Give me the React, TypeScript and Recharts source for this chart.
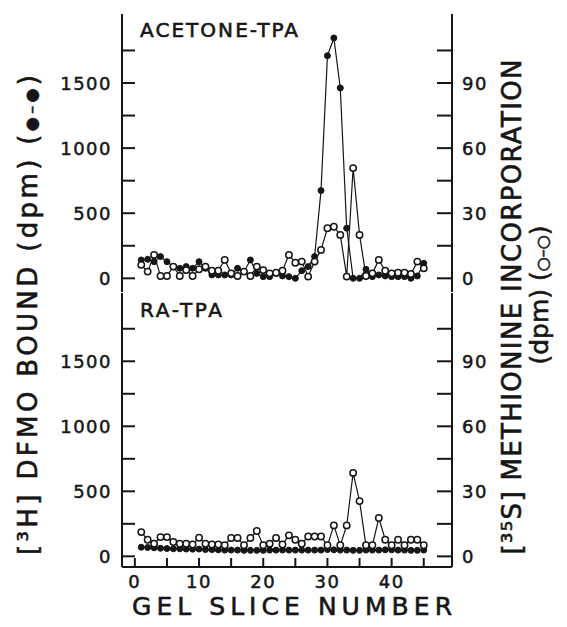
import React from 'react';
import { LineChart, Line, XAxis, YAxis } from 'recharts';

// ---------- data ----------
const slices = [1, 2, 3, 4, 5, 6, 7, 8, 9, 10, 11, 12, 13, 14, 15, 16, 17, 18, 19, 20, 21, 22, 23, 24, 25, 26, 27, 28, 29, 30, 31, 32, 33, 34, 35, 36, 37, 38, 39, 40, 41, 42, 43, 44, 45];

// [3H] DFMO bound (dpm), left axis
const acetoneDFMO = [141, 146, 128, 167, 128, 90, 77, 90, 77, 128, 77, 26, 26, 26, 26, 77, 51, 141, 38, 13, 13, 38, 18, 13, 0, 59, 90, 167, 674, 1710, 1846, 1462, 385, 0, 0, 69, 13, 26, 18, 13, 13, 13, 0, 18, 115];
const raDFMO = [70, 68, 66, 62, 60, 58, 58, 56, 55, 56, 52, 52, 50, 48, 48, 48, 46, 46, 46, 46, 48, 48, 48, 48, 48, 48, 48, 48, 48, 52, 50, 48, 48, 46, 46, 48, 48, 48, 50, 50, 48, 48, 46, 46, 48];

// [35S] methionine incorporation, right axis
const acetoneMet = [6.2, 3.1, 10.8, 1.1, 1.1, 5.4, 1.1, 3.8, 1.1, 4.2, 5.4, 3.5, 3.5, 8.5, 2.3, 1.1, 3.1, 1.1, 5.4, 3.8, 2.3, 2.6, 3.5, 10.8, 7.2, 7.7, 0.8, 7.7, 13.1, 23.1, 23.8, 20, 0.8, 50.8, 20, 1.1, 2.3, 8.5, 3.5, 2.3, 2.6, 2.6, 2.0, 7.7, 4.6];
const raMet = [11.2, 7.7, 5.8, 8.9, 8.9, 6.6, 5.8, 5.8, 5.5, 8.6, 5.8, 5.5, 5.5, 5.1, 8.5, 8.5, 5.1, 8.5, 11.7, 5.1, 5.8, 8.5, 5.5, 9.7, 7.7, 5.8, 9.2, 9.2, 9.2, 5.1, 14.3, 5.1, 14.3, 38.5, 25.5, 5.1, 5.1, 17.7, 7.7, 5.1, 7.7, 5.1, 7.7, 7.7, 5.1];

const leftTicks = [0, 250, 500, 750, 1000, 1250, 1500, 1750];
const leftLabels = [0, 500, 1000, 1500];
const rightTicks = [0, 15, 30, 45, 60, 75, 90, 105];
const rightLabels = [0, 30, 60, 90];
const xTicks = [0, 5, 10, 15, 20, 25, 30, 35, 40, 45];
const xLabels = [0, 10, 20, 30, 40];

const topRows = slices.map((s, i) => ({ slice: s, dfmo: acetoneDFMO[i], met: acetoneMet[i] }));
const bottomRows = slices.map((s, i) => ({ slice: s, dfmo: raDFMO[i], met: raMet[i] }));

// ---------- style ----------
const INK = '#161616';
const FONT = 'DejaVu Sans';
const W = 567;
const LEFT_W = 122;
const RIGHT_W = 115;
const PLOT_L = LEFT_W;
const PLOT_R = W - RIGHT_W;
const X_DOMAIN: [number, number] = [-2, 49.4];

const tickText = { fontSize: 18, fontFamily: FONT, fill: INK, stroke: INK, strokeWidth: 0.5, letterSpacing: 1.5 } as const;

function LeftTick(props: any) {
  const { y, payload } = props;
  const v = payload.value;
  return (
    <g>
      <line x1={PLOT_L} x2={PLOT_L + 13} y1={y} y2={y} stroke={INK} strokeWidth={2} />
      {leftLabels.includes(v) && (
        <text x={112} y={y + 6.5} textAnchor="end" {...tickText}>
          {v}
        </text>
      )}
    </g>
  );
}

function RightTick(props: any) {
  const { y, payload } = props;
  const v = payload.value;
  return (
    <g>
      <line x1={PLOT_R - 15} x2={PLOT_R} y1={y} y2={y} stroke={INK} strokeWidth={2} />
      {rightLabels.includes(v) && (
        <text x={462} y={y + 6.5} textAnchor="start" {...tickText}>
          {v}
        </text>
      )}
    </g>
  );
}

const BOTTOM_PLOT_B = 275;
function XTick(props: any) {
  const { x, payload } = props;
  const v = payload.value;
  return (
    <g>
      <line x1={x} x2={x} y1={BOTTOM_PLOT_B - 9} y2={BOTTOM_PLOT_B} stroke={INK} strokeWidth={2} />
      {xLabels.includes(v) && (
        <text x={x} y={296} textAnchor="middle" {...tickText}>
          {v}
        </text>
      )}
    </g>
  );
}

const axisLine = { stroke: INK, strokeWidth: 2 };

function Panel({ rows, height, margin, leftDomain, rightDomain, bottomAxis, topBorder }: any) {
  return (
    <LineChart width={W} height={height} data={rows} margin={margin}>
      <XAxis
        dataKey="slice"
        type="number"
        domain={X_DOMAIN}
        allowDataOverflow
        ticks={xTicks}
        interval={0}
        height={bottomAxis ? 60 : 0}
        tickLine={false}
        axisLine={axisLine}
        tick={bottomAxis ? (p: any) => <XTick {...p} /> : false}
      />
      {topBorder && (
        <XAxis
          xAxisId="top"
          orientation="top"
          dataKey="slice"
          type="number"
          domain={X_DOMAIN}
          allowDataOverflow
          height={0}
          tick={false}
          tickLine={false}
          axisLine={axisLine}
        />
      )}
      <YAxis
        yAxisId="L"
        orientation="left"
        width={LEFT_W}
        type="number"
        domain={leftDomain}
        allowDataOverflow
        ticks={leftTicks}
        interval={0}
        tickLine={false}
        axisLine={axisLine}
        tick={(p: any) => <LeftTick {...p} />}
      />
      <YAxis
        yAxisId="R"
        orientation="right"
        width={RIGHT_W}
        type="number"
        domain={rightDomain}
        allowDataOverflow
        ticks={rightTicks}
        interval={0}
        tickLine={false}
        axisLine={axisLine}
        tick={(p: any) => <RightTick {...p} />}
      />
      <Line
        yAxisId="L"
        type="linear"
        dataKey="dfmo"
        stroke={INK}
        strokeWidth={1.2}
        dot={{ r: 3, fill: INK, stroke: INK, strokeWidth: 1 }}
        isAnimationActive={false}
      />
      <Line
        yAxisId="R"
        type="linear"
        dataKey="met"
        stroke={INK}
        strokeWidth={1.2}
        dot={{ r: 3.2, fill: '#fff', stroke: INK, strokeWidth: 1.5 }}
        isAnimationActive={false}
      />
    </LineChart>
  );
}

const txt = { fontFamily: FONT, fill: INK, stroke: INK, strokeWidth: 0.6 } as const;

export default function App() {
  return (
    <div style={{ position: 'absolute', left: 0, top: 0, width: W, height: 627, background: '#fff' }}>
      <div style={{ position: 'absolute', left: 0, top: 0 }}>
        <Panel
          rows={topRows}
          height={294}
          margin={{ top: 14, right: 0, bottom: 2, left: 0 }}
          leftDomain={[-105, 2030]}
          rightDomain={[-6.3, 121.8]}
          bottomAxis={false}
          topBorder={true}
        />
      </div>
      <div style={{ position: 'absolute', left: 0, top: 292 }}>
        <Panel
          rows={bottomRows}
          height={335}
          margin={{ top: 1, right: 0, bottom: 0, left: 0 }}
          leftDomain={[-82, 2025]}
          rightDomain={[-4.9, 121.5]}
          bottomAxis={true}
          topBorder={false}
        />
      </div>
      <svg width={W} height={627} style={{ position: 'absolute', left: 0, top: 0, pointerEvents: 'none' }}>
        <text x={140} y={37} fontSize={20} textLength={158} lengthAdjust="spacing" {...txt}>ACETONE-TPA</text>
        <text x={140} y={317} fontSize={20} textLength={82} lengthAdjust="spacing" {...txt}>RA-TPA</text>
        <text
          x={37}
          y={315}
          transform="rotate(-90 37 315)"
          textAnchor="middle"
          fontSize={26}
          textLength={480}
          lengthAdjust="spacing"
          {...txt}
        >
          [³H] DFMO BOUND (dpm) (<tspan fontSize={16}>●–●</tspan>)
        </text>
        <text
          x={521}
          y={307}
          transform="rotate(-90 521 307)"
          textAnchor="middle"
          fontSize={26}
          textLength={495}
          lengthAdjust="spacing"
          {...txt}
        >
          [³⁵S] METHIONINE INCORPORATION
        </text>
        <text x={548} y={295} transform="rotate(-90 548 295)" textAnchor="middle" fontSize={25} {...txt}>
          (dpm) (<tspan fontSize={16}>○–○</tspan>)
        </text>
        <text x={292} y={615} textAnchor="middle" fontSize={25} textLength={320} lengthAdjust="spacing" {...txt}>
          GEL SLICE NUMBER
        </text>
      </svg>
    </div>
  );
}
